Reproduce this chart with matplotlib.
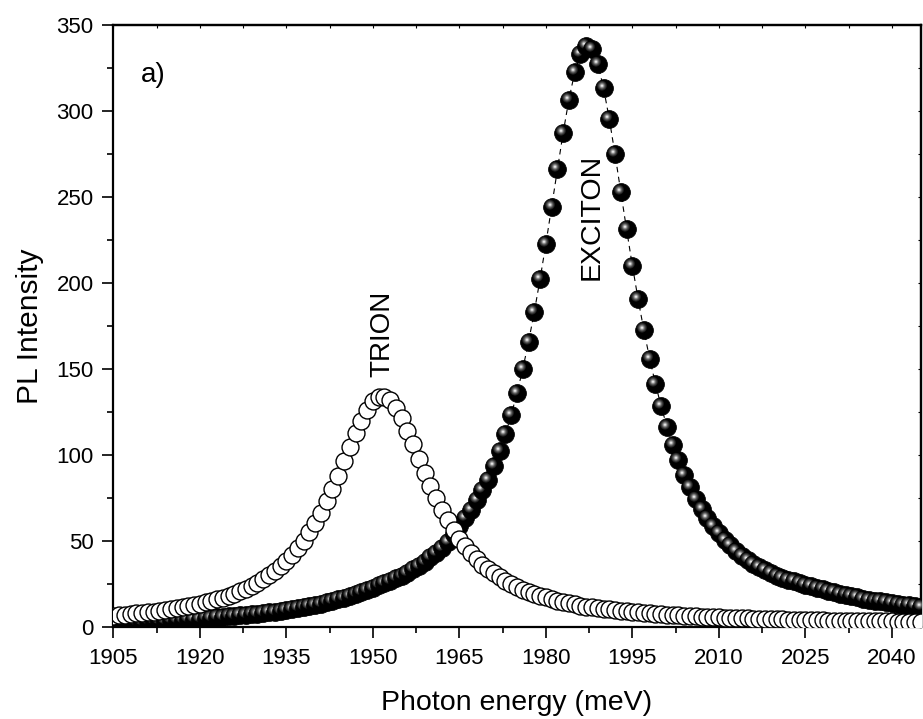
import matplotlib
matplotlib.use("Agg")
import matplotlib.pyplot as plt
from matplotlib.markers import MarkerStyle
from matplotlib.transforms import Affine2D
from matplotlib.ticker import MultipleLocator
import numpy as np

plt.rcParams['font.family'] = ['Liberation Sans', 'DejaVu Sans']

# ---------------- data ----------------
energy = list(range(1905, 2046))  # meV, 1 meV step

exciton = [
    2.3, 2.45, 2.6, 2.7, 2.85, 3.0, 3.15, 3.3, 3.45, 3.6,
    3.8, 4.0, 4.15, 4.35, 4.55, 4.75, 5.0, 5.2, 5.45, 5.7,
    5.95, 6.25, 6.55, 6.85, 7.2, 7.55, 7.9, 8.3, 8.7, 9.15,
    9.6, 10.1, 10.65, 11.25, 11.9, 12.6, 13.35, 14.15, 15.0, 15.95,
    16.95, 18.0, 19.2, 20.4, 21.6, 22.8, 24.0, 25.2, 26.6, 28.1,
    29.7, 31.5, 33.4, 35.5, 37.8, 40.3, 43.0, 46.0, 49.3, 54.0,
    58.5, 63.0, 68.0, 73.5, 79.5, 85.4, 93.3, 102.1, 112.1, 123.3,
    135.8, 149.9, 165.7, 183.1, 202.2, 222.6, 244.2, 266.1, 287.3, 306.6,
    322.4, 333.2, 337.9, 335.9, 327.4, 313.4, 295.4, 274.7, 252.9, 231.1,
    210.1, 190.5, 172.4, 156.0, 141.3, 128.1, 116.4, 105.9, 96.7, 88.4,
    81.1, 74.5, 68.7, 63.5, 58.8, 54.5, 50.7, 47.3, 44.1, 41.3,
    38.7, 36.6, 34.6, 32.8, 31.2, 29.7, 28.5, 27.4, 26.4, 25.3,
    24.4, 23.5, 22.6, 21.7, 20.8, 20.0, 19.1, 18.4, 17.7, 17.1,
    16.4, 15.8, 15.2, 14.7, 14.1, 13.7, 13.2, 12.8, 12.4, 12.0,
    11.6,
]

trion = [
    6.5, 6.8, 7.0, 7.4, 7.7, 8.0, 8.4, 8.8, 9.2, 9.7,
    10.2, 10.7, 11.3, 11.9, 12.6, 13.3, 14.1, 15.0, 15.9, 16.9,
    18.1, 19.3, 20.7, 22.2, 23.8, 25.6, 27.6, 29.9, 32.4, 35.2,
    38.3, 41.8, 45.7, 50.0, 54.9, 60.3, 66.4, 73.0, 80.2, 87.9,
    96.1, 104.3, 112.4, 119.9, 126.3, 131.0, 133.6, 133.8, 131.7, 127.3,
    121.3, 114.0, 106.0, 97.7, 89.5, 82.0, 74.7, 67.9, 61.8, 56.3,
    51.3, 46.8, 42.8, 39.3, 36.1, 33.5, 31.0, 28.7, 26.6, 24.7,
    23.1, 21.5, 20.2, 18.9, 17.8, 17.0, 16.1, 15.2, 14.4, 13.6,
    13.0, 12.3, 11.7, 11.2, 10.7, 10.5, 10.1, 9.7, 9.3, 8.9,
    8.6, 8.3, 8.0, 7.7, 7.5, 7.2, 7.0, 6.8, 6.6, 6.4,
    6.2, 6.0, 5.9, 5.7, 5.5, 5.4, 5.3, 5.1, 5.0, 4.9,
    4.8, 4.7, 4.6, 4.5, 4.4, 4.3, 4.2, 4.1, 4.0, 4.0,
    3.9, 3.8, 3.8, 3.7, 3.6, 3.6, 3.5, 3.5, 3.4, 3.3,
    3.3, 3.2, 3.2, 3.2, 3.1, 3.1, 3.0, 3.0, 2.9, 2.9,
    2.9,
]

x_ticks = [1905, 1920, 1935, 1950, 1965, 1980, 1995, 2010, 2025, 2040]
y_ticks = [0, 50, 100, 150, 200, 250, 300, 350]

# ---------------- figure ----------------
W, H = 923, 719
fig = plt.figure(figsize=(W / 100, H / 100), dpi=100)
ax = fig.add_axes([113.3 / W, 1 - 626.7 / H, (920.7 - 113.3) / W, (626.7 - 25) / H])

ax.set_xlim(1905, 2045)
ax.set_ylim(0, 350)

# dashed connecting line for exciton
ax.plot(energy, exciton, color='black', lw=0.8, dashes=(5, 4), zorder=2)

# shaded "sphere" markers for exciton
S = 12.8  # pt
highlight = [(7.0, '#222222'), (5.6, '#444444'), (4.2, '#6e6e6e'),
             (3.0, '#9c9c9c'), (1.9, '#cccccc'), (1.0, '#f4f4f4')]
hx, hy = -1.8, 2.0  # highlight offset in points
for xv, yv in zip(energy, exciton):
    ax.plot([xv], [yv], ls='none', marker='o', ms=S, mfc='black',
            mec='black', mew=0.6, zorder=3)
    for ms, col in highlight:
        mk = MarkerStyle('o', transform=Affine2D().translate(hx / ms, hy / ms))
        ax.plot([xv], [yv], ls='none', marker=mk, ms=ms, mfc=col,
                mew=0, zorder=3)

# open circles for trion
ax.plot(energy, trion, ls='none', marker='o', ms=12.2, mfc='white',
        mec='black', mew=1.0, zorder=10)

# annotations
ax.text(1912.0, 321, 'a)', fontsize=20, ha='center', va='center')
ax.text(1951.7, 145, 'TRION', fontsize=20, rotation=90,
        ha='center', va='bottom')
ax.text(1988.0, 238.5, 'EXCITON', fontsize=20.5, rotation=90,
        ha='center', va='center')

# axes styling
ax.set_xticks(x_ticks)
ax.set_yticks(y_ticks)
ax.xaxis.set_minor_locator(MultipleLocator(7.5))
ax.yaxis.set_minor_locator(MultipleLocator(25))
ax.tick_params(which='major', direction='out', length=7.6, width=1.2,
               labelsize=16)
ax.tick_params(which='minor', direction='out', length=4.0, width=1.2)
ax.tick_params(axis='x', which='major', pad=8)
ax.tick_params(axis='y', which='major', pad=6.5)
for sp in ax.spines.values():
    sp.set_linewidth(1.6)

# inward ticks on top and right
top = ax.secondary_xaxis('top')
top.set_xticks(x_ticks)
top.xaxis.set_minor_locator(MultipleLocator(7.5))
top.tick_params(which='both', direction='in', length=2.2, width=0.8,
                labeltop=False)
top.spines['top'].set_linewidth(1.6)
right = ax.secondary_yaxis('right')
right.set_yticks(y_ticks)
right.yaxis.set_minor_locator(MultipleLocator(25))
right.tick_params(which='both', direction='in', length=2.2, width=0.8,
                  labelright=False)
right.spines['right'].set_linewidth(1.6)

ax.set_xlabel('Photon energy (meV)', fontsize=20.5, labelpad=15)
ax.set_ylabel('PL Intensity', fontsize=21.5, labelpad=9)

fig.savefig('out.png', dpi=100)
